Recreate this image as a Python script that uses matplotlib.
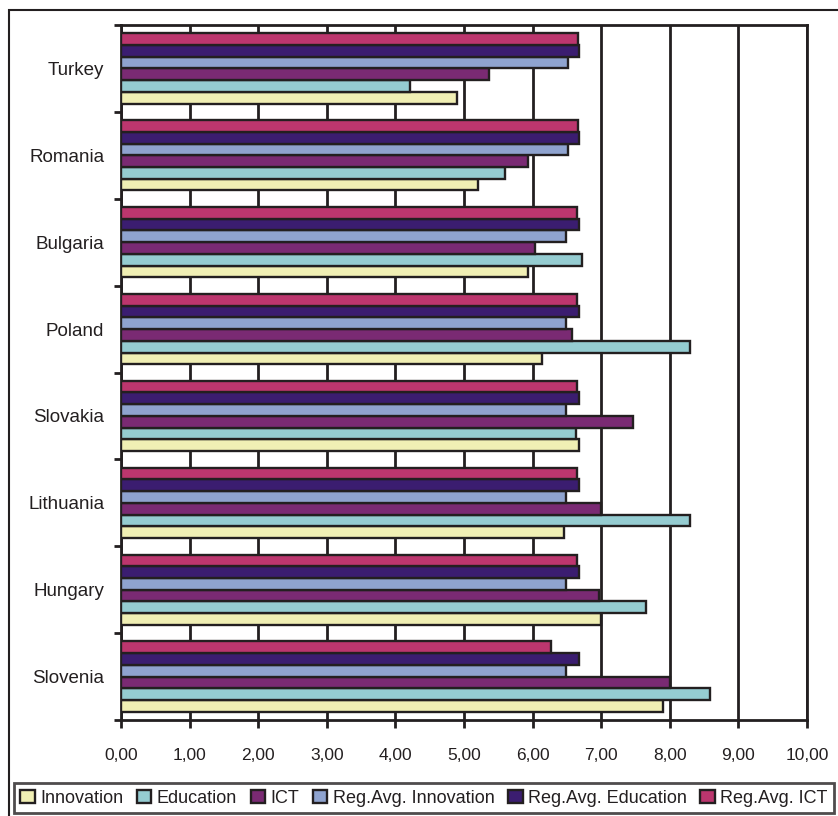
import matplotlib.pyplot as plt
import matplotlib.patches as patches
import matplotlib.font_manager as fm
import numpy as np

# Countries, bottom to top as drawn
countries = ["Slovenia", "Hungary", "Lithuania", "Slovakia",
             "Poland", "Bulgaria", "Romania", "Turkey"]

innovation = [7.90, 7.00, 6.46, 6.68, 6.13, 5.93, 5.21, 4.90]
education = [8.58, 7.65, 8.29, 6.63, 8.29, 6.72, 5.60, 4.21]
ict = [8.00, 6.97, 7.00, 7.47, 6.58, 6.04, 5.93, 5.36]
reg_innovation = [6.49, 6.49, 6.49, 6.49, 6.49, 6.49, 6.51, 6.51]
reg_education = [6.68, 6.68, 6.68, 6.68, 6.68, 6.68, 6.68, 6.68]
reg_ict = [6.27, 6.65, 6.65, 6.65, 6.65, 6.65, 6.66, 6.66]

series_names = ["Innovation", "Education", "ICT", "Reg.Avg. Innovation",
                "Reg.Avg. Education", "Reg.Avg. ICT"]
series_values = [innovation, education, ict, reg_innovation, reg_education, reg_ict]
colors = ["#f0efb4", "#95ccd1", "#7a2a73", "#8fa3cf", "#3b1d70", "#bc366e"]

x_ticks = np.arange(0, 11, 1)

names = {f.name for f in fm.fontManager.ttflist}
main_font = "Liberation Sans" if "Liberation Sans" in names else "DejaVu Sans"
legend_font = "Liberation Sans Narrow" if "Liberation Sans Narrow" in names else main_font
plt.rcParams["font.family"] = main_font

W, H = 838, 816
fig = plt.figure(figsize=(W / 100, H / 100), dpi=100)
ax = fig.add_axes([121 / W, 1 - 720 / H, (807 - 121) / W, (720 - 25) / H])

edge = "#231f20"
bar_h = 0.135
y = np.arange(len(countries))
for i, (name, vals, col) in enumerate(zip(series_names, series_values, colors)):
    off = (i - 2.5) * bar_h
    ax.barh(y + off, vals, height=bar_h, color=col, edgecolor=edge,
            linewidth=1.7, label=name, zorder=3)

ax.set_xlim(0, 10)
ax.set_ylim(-0.5, len(countries) - 0.5)
ax.set_xticks(x_ticks)
ax.set_xticklabels([f"{v:.2f}".replace(".", ",") for v in x_ticks], fontsize=12.5)
ax.set_yticks(y)
ax.set_yticklabels(countries, fontsize=13.5, color="#231f20")
ax.set_yticks(np.arange(-0.5, len(countries), 1), minor=True)
ax.tick_params(axis="y", which="major", length=0, pad=12)
ax.tick_params(axis="y", which="minor", length=5, width=2, color=edge)
ax.tick_params(axis="x", length=6, width=2, color=edge, pad=14, labelcolor="#231f20")
ax.grid(axis="x", color=edge, linewidth=2, zorder=1)
for s in ax.spines.values():
    s.set_linewidth(2)
    s.set_color(edge)

# outer border of the chart area
fig.add_artist(patches.Rectangle((9 / W, -0.1), 1.2, 1 - 10 / H + 0.1,
                                 transform=fig.transFigure, fill=False,
                                 edgecolor=edge, linewidth=1.5))

leg = fig.legend(loc="lower left", bbox_to_anchor=(14 / W, 3 / H, 820 / W, 30 / H),
                 mode="expand", ncol=6, frameon=True, fancybox=False,
                 handlelength=0.8, handleheight=0.8, handletextpad=0.3,
                 columnspacing=0.5, borderpad=0.35, borderaxespad=0,
                 prop={"family": legend_font, "size": 13})
leg.get_frame().set_edgecolor(edge)
leg.get_frame().set_linewidth(2)
for t in leg.get_texts():
    t.set_color("#231f20")

fig.savefig("out.png", dpi=100)
